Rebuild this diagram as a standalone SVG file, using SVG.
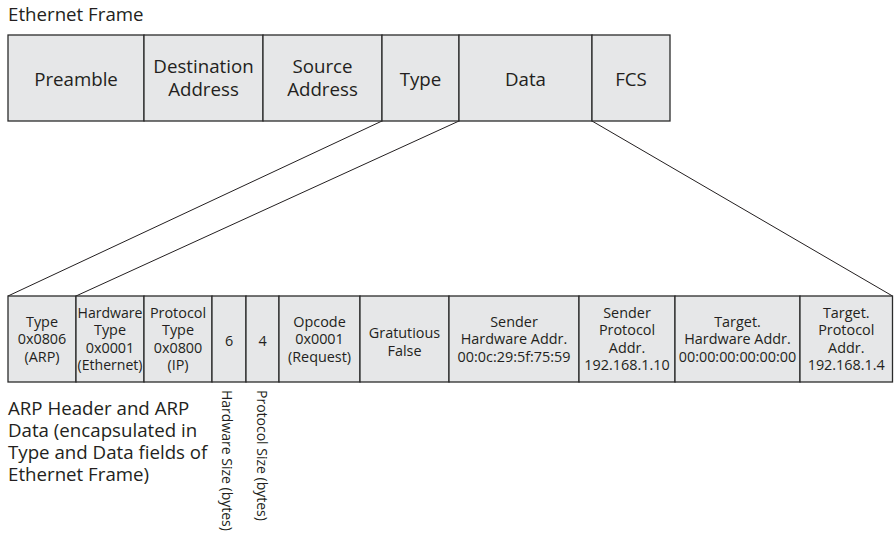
<svg xmlns="http://www.w3.org/2000/svg" width="894" height="536" viewBox="0 0 894 536">
<style>
.cell{fill:#e6e7e8;stroke:#2b2b2b;stroke-width:1.3}
.t{font-family:"Open Sans","Noto Sans","Liberation Sans",sans-serif;fill:#231f20;text-anchor:middle}
.big{font-size:18.7px}
.sm{font-size:14.4px}
.note{font-family:"Open Sans","Noto Sans","Liberation Sans",sans-serif;fill:#231f20;font-size:18.7px}
.vt{font-family:"Open Sans","Noto Sans","Liberation Sans",sans-serif;fill:#231f20;font-size:14px}
.conn{stroke:#231f20;stroke-width:1;fill:none}
</style>
<rect width="894" height="536" fill="#ffffff"/>
<text class="note" x="8" y="21">Ethernet Frame</text>

<g id="connectors">
<line class="conn" x1="382" y1="121" x2="8" y2="296"/>
<line class="conn" x1="459" y1="121" x2="76" y2="296"/>
<line class="conn" x1="592" y1="121" x2="892.5" y2="296"/>
</g>

<g id="eth-preamble"><rect class="cell" x="8" y="35" width="136" height="86"/><text class="t big" x="76" y="85.5">Preamble</text></g>
<g id="eth-dest"><rect class="cell" x="144" y="35" width="119" height="86"/><text class="t big" x="203.5" y="72.5">Destination</text><text class="t big" x="203.5" y="96">Address</text></g>
<g id="eth-src"><rect class="cell" x="263" y="35" width="119" height="86"/><text class="t big" x="322.5" y="72.5">Source</text><text class="t big" x="322.5" y="96">Address</text></g>
<g id="eth-type"><rect class="cell" x="382" y="35" width="77" height="86"/><text class="t big" x="420.5" y="85.5">Type</text></g>
<g id="eth-data"><rect class="cell" x="459" y="35" width="133" height="86"/><text class="t big" x="525.5" y="85.5">Data</text></g>
<g id="eth-fcs"><rect class="cell" x="592" y="35" width="78" height="86"/><text class="t big" x="631" y="85.5">FCS</text></g>

<g id="arp-type"><rect class="cell" x="8" y="296" width="68" height="86"/><text class="t sm" x="42" y="326.5">Type</text><text class="t sm" x="42" y="344">0x0806</text><text class="t sm" x="42" y="361.5">(ARP)</text></g>
<g id="arp-hwtype"><rect class="cell" x="76" y="296" width="68" height="86"/><text class="t sm" x="110" y="317.5" textLength="65" lengthAdjust="spacingAndGlyphs">Hardware</text><text class="t sm" x="110" y="335">Type</text><text class="t sm" x="110" y="352.5">0x0001</text><text class="t sm" x="110" y="370" textLength="65" lengthAdjust="spacingAndGlyphs">(Ethernet)</text></g>
<g id="arp-ptype"><rect class="cell" x="144" y="296" width="68" height="86"/><text class="t sm" x="178" y="317.5">Protocol</text><text class="t sm" x="178" y="335">Type</text><text class="t sm" x="178" y="352.5">0x0800</text><text class="t sm" x="178" y="370">(IP)</text></g>
<g id="arp-hwsize"><rect class="cell" x="212" y="296" width="34" height="86"/><text class="t sm" x="229" y="345.5">6</text></g>
<g id="arp-psize"><rect class="cell" x="246" y="296" width="33" height="86"/><text class="t sm" x="262.5" y="345.5">4</text></g>
<g id="arp-opcode"><rect class="cell" x="279" y="296" width="81" height="86"/><text class="t sm" x="319.5" y="326.5">Opcode</text><text class="t sm" x="319.5" y="344">0x0001</text><text class="t sm" x="319.5" y="361.5">(Request)</text></g>
<g id="arp-grat"><rect class="cell" x="360" y="296" width="89" height="86"/><text class="t sm" x="404.5" y="338">Gratutious</text><text class="t sm" x="404.5" y="355.5">False</text></g>
<g id="arp-sha"><rect class="cell" x="449" y="296" width="130" height="86"/><text class="t sm" x="514" y="326.5">Sender</text><text class="t sm" x="514" y="344">Hardware Addr.</text><text class="t sm" x="514" y="361.5">00:0c:29:5f:75:59</text></g>
<g id="arp-spa"><rect class="cell" x="579" y="296" width="96" height="86"/><text class="t sm" x="627" y="317.5">Sender</text><text class="t sm" x="627" y="335">Protocol</text><text class="t sm" x="627" y="352.5">Addr.</text><text class="t sm" x="627" y="370">192.168.1.10</text></g>
<g id="arp-tha"><rect class="cell" x="675" y="296" width="125" height="86"/><text class="t sm" x="737.5" y="326.5">Target.</text><text class="t sm" x="737.5" y="344">Hardware Addr.</text><text class="t sm" x="737.5" y="361.5">00:00:00:00:00:00</text></g>
<g id="arp-tpa"><rect class="cell" x="800" y="296" width="92.5" height="86"/><text class="t sm" x="846.25" y="317.5">Target.</text><text class="t sm" x="846.25" y="335">Protocol</text><text class="t sm" x="846.25" y="352.5">Addr.</text><text class="t sm" x="846.25" y="370">192.168.1.4</text></g>

<g id="arp-note">
<text class="note" x="8" y="415">ARP Header and ARP</text>
<text class="note" x="8" y="437">Data (encapsulated in</text>
<text class="note" x="8" y="459">Type and Data fields of</text>
<text class="note" x="8" y="481">Ethernet Frame)</text>
</g>
<g id="size-labels">
<text class="vt" transform="translate(222,390) rotate(90)">Hardware Size (bytes)</text>
<text class="vt" transform="translate(257,390) rotate(90)">Protocol Size (bytes)</text>
</g>
</svg>
